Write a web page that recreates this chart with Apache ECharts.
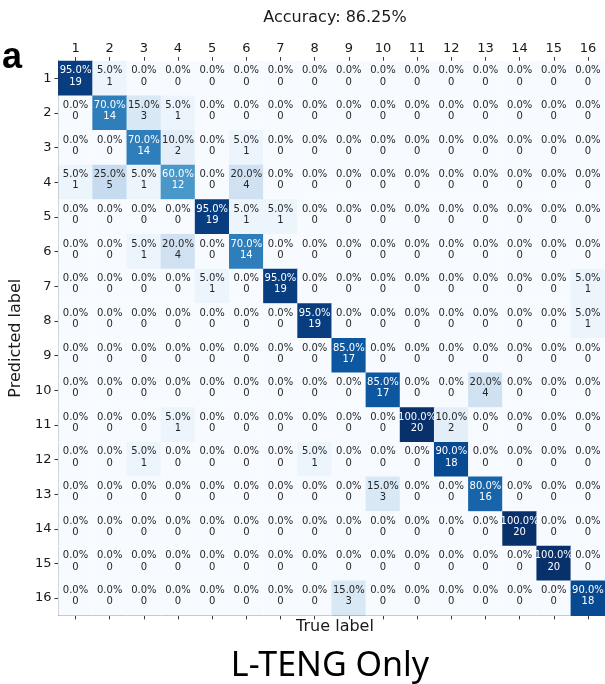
<!DOCTYPE html>
<html>
<head>
<meta charset="utf-8">
<script src="https://cdn.jsdelivr.net/npm/echarts@6/dist/echarts.min.js"></script>
<style>html,body{margin:0;padding:0;background:#fff;}#c{width:605px;height:684px;}</style>
</head>
<body>
<div id="c"></div>
<script>
const trueLabels = ['1','2','3','4','5','6','7','8','9','10','11','12','13','14','15','16'];
const predictedLabels = ['1','2','3','4','5','6','7','8','9','10','11','12','13','14','15','16'];
const samplesPerClass = 20;
// rows = predicted label, columns = true label (counts)
const counts = [
  [19,1,0,0,0,0,0,0,0,0,0,0,0,0,0,0],
  [0,14,3,1,0,0,0,0,0,0,0,0,0,0,0,0],
  [0,0,14,2,0,1,0,0,0,0,0,0,0,0,0,0],
  [1,5,1,12,0,4,0,0,0,0,0,0,0,0,0,0],
  [0,0,0,0,19,1,1,0,0,0,0,0,0,0,0,0],
  [0,0,1,4,0,14,0,0,0,0,0,0,0,0,0,0],
  [0,0,0,0,1,0,19,0,0,0,0,0,0,0,0,1],
  [0,0,0,0,0,0,0,19,0,0,0,0,0,0,0,1],
  [0,0,0,0,0,0,0,0,17,0,0,0,0,0,0,0],
  [0,0,0,0,0,0,0,0,0,17,0,0,4,0,0,0],
  [0,0,0,1,0,0,0,0,0,0,20,2,0,0,0,0],
  [0,0,1,0,0,0,0,1,0,0,0,18,0,0,0,0],
  [0,0,0,0,0,0,0,0,0,3,0,0,16,0,0,0],
  [0,0,0,0,0,0,0,0,0,0,0,0,0,20,0,0],
  [0,0,0,0,0,0,0,0,0,0,0,0,0,0,20,0],
  [0,0,0,0,0,0,0,0,3,0,0,0,0,0,0,18]
];
const accuracyText = 'Accuracy: 86.25%';
const panelLetter = 'a';
const panelCaption = 'L-TENG Only';

const blues = ['#f7fbff','#deebf7','#c6dbef','#9ecae1','#6baed6','#4292c6','#2171b5','#08519c','#08306b'];
const data = [];
counts.forEach((row, r) => {
  row.forEach((c, col) => {
    const pct = c / samplesPerClass * 100;
    data.push({
      value: [col, r, pct, c],
      label: { color: pct > 50 ? '#ffffff' : '#262626' }
    });
  });
});

const chart = echarts.init(document.getElementById('c'), null, {renderer: 'canvas'});
const GL = 58, GT = 61, CELL = 34.65;
const axisCommon = {
  type: 'category',
  axisLine: { show: true, lineStyle: { color: '#3a3a3a', width: 1 } },
  axisTick: { show: true, alignWithLabel: true, length: 4, lineStyle: { color: '#3a3a3a' } },
  splitLine: { show: false },
  splitArea: { show: false }
};
chart.setOption({
  animation: false,
  backgroundColor: '#ffffff',
  grid: { left: GL, top: GT, width: CELL * 16, height: CELL * 16, containLabel: false },
  xAxis: [
    Object.assign({}, axisCommon, {
      data: trueLabels, position: 'top',
      axisLabel: { color: '#1a1a1a', fontSize: 13, fontFamily: 'DejaVu Sans', margin: 6 }
    }),
    Object.assign({}, axisCommon, {
      data: trueLabels, position: 'bottom',
      axisLabel: { show: false }
    })
  ],
  yAxis: [
    Object.assign({}, axisCommon, {
      data: predictedLabels, inverse: true, position: 'left',
      axisLabel: { color: '#1a1a1a', fontSize: 13, fontFamily: 'DejaVu Sans', margin: 7 },
      name: 'Predicted label', nameLocation: 'middle', nameRotate: 90, nameGap: 30,
      nameTextStyle: { color: '#1a1a1a', fontSize: 16, fontFamily: 'DejaVu Sans' }
    })
  ],
  visualMap: {
    show: false, type: 'continuous', min: 0, max: 100, dimension: 2,
    inRange: { color: blues }
  },
  series: [{
    type: 'heatmap',
    xAxisIndex: 0, yAxisIndex: 0,
    data: data,
    itemStyle: { borderWidth: 0 },
    emphasis: { disabled: true },
    label: {
      show: true,
      fontFamily: 'DejaVu Sans',
      fontSize: 10,
      lineHeight: 11.2,
      offset: [0, -2],
      formatter: p => p.value[2].toFixed(1) + '%\n' + p.value[3]
    }
  }],
  graphic: [
    { type: 'text', style: { x: 335, y: 18, text: accuracyText, font: '16px "DejaVu Sans"', fill: '#1a1a1a', textAlign: 'center', textVerticalAlign: 'middle' } },
    { type: 'text', style: { x: 12, y: 58, text: panelLetter, font: 'bold 36px "Liberation Sans"', fill: '#000', textAlign: 'center', textVerticalAlign: 'middle' } },
    { type: 'text', style: { x: 335, y: 627, text: 'True label', font: '16px "DejaVu Sans"', fill: '#1a1a1a', textAlign: 'center', textVerticalAlign: 'middle' } },
    { type: 'text', style: { x: 330, y: 666, text: panelCaption, font: '34px "Noto Sans"', fill: '#000', textAlign: 'center', textVerticalAlign: 'middle' } }
  ]
});
</script>
</body>
</html>
